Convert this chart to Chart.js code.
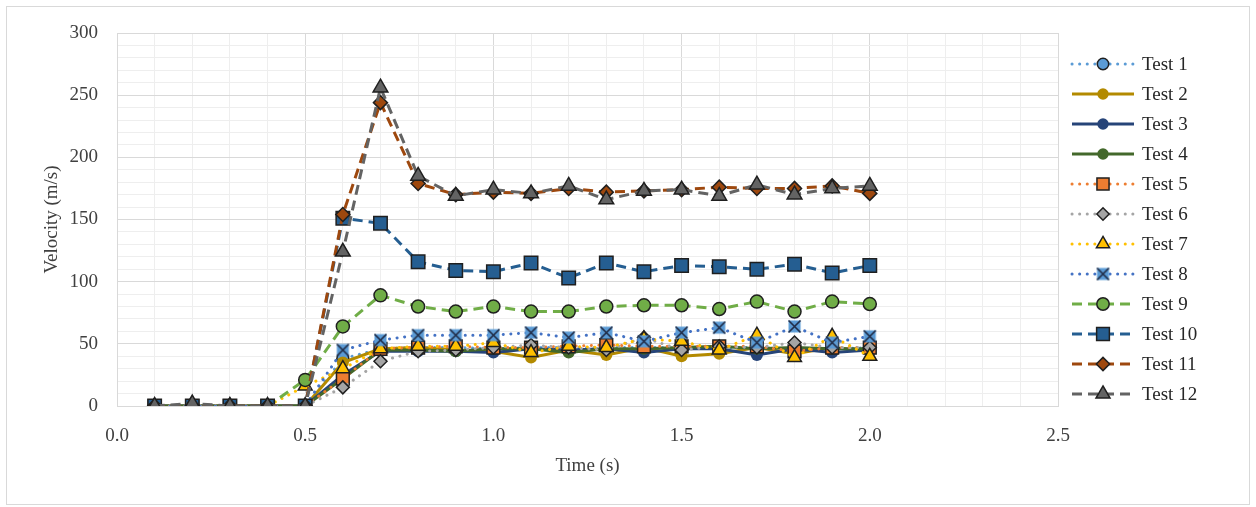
<!DOCTYPE html>
<html>
<head>
<meta charset="utf-8">
<script src="https://cdn.jsdelivr.net/npm/chart.js@4.4.1/dist/chart.umd.min.js"></script>
<style>
  html,body{margin:0;padding:0;background:#fff;}
  #box{position:absolute;left:6px;top:6px;width:1242px;height:497px;border:1px solid #d9d9d9;background:#fff;}
  canvas{display:block;}
</style>
</head>
<body>
<div id="box"><canvas id="c" width="1242" height="497"></canvas></div>
<script>
// Time points (s) and velocity (m/s) per test
const TIMES = [0.1,0.2,0.3,0.4,0.5,0.6,0.7,0.8,0.9,1.0,1.1,1.2,1.3,1.4,1.5,1.6,1.7,1.8,1.9,2.0];
const TEST1  = [0,0,0,0,0, 38, 46, 47, 47, 46, 47, 47, 47, 47, 47, 47, 47, 46, 46, 47];
const TEST2  = [0,0,0,0,0, 35, 46, 47, 45, 44, 39, 45, 41, 47, 40, 42, 47, 42, 47, 44];
const TEST3  = [0,0,0,0,0, 25, 44, 44, 44, 43, 46, 45, 46, 43, 46, 46, 41, 46, 43, 45];
const TEST4  = [0,0,0,0,0, 22, 45, 45, 44, 46, 46, 43, 46, 46, 47, 48, 46, 47, 46, 46];
const TEST5  = [0,0,0,0,0, 22, 46, 47, 48, 47, 47, 48, 49, 48, 48, 48, 48, 44, 47, 47];
const TEST6  = [0,0,0,0,0, 15, 36, 44, 45, 47, 49, 47, 45, 55, 45, 48, 47, 51, 47, 47];
const TEST7  = [0,0,0,0,16, 30, 46, 48, 48, 51, 43, 48, 47, 54, 52, 45, 57, 39, 56, 40];
const TEST8  = [0,0,0,0,0, 45, 53, 57, 57, 57, 59, 55, 59, 52, 59, 63, 51, 64, 51, 56];
const TEST9  = [0,0,0,0,21, 64, 89, 80, 76, 80, 76, 76, 80, 81, 81, 78, 84, 76, 84, 82];
const TEST10 = [0,0,0,0,0, 151,147,116,109,108,115,103,115,108,113,112,110,114,107,113];
const TEST11 = [0,0,0,0,0, 154,244,179,170,172,171,175,172,173,174,176,175,175,177,171];
const TEST12 = [0,2,0,0,0, 124,256,185,169,174,171,177,166,173,174,169,178,170,175,177];
const LABELS = ["Test 1","Test 2","Test 3","Test 4","Test 5","Test 6","Test 7","Test 8","Test 9","Test 10","Test 11","Test 12"];
const VALUES = [TEST1,TEST2,TEST3,TEST4,TEST5,TEST6,TEST7,TEST8,TEST9,TEST10,TEST11,TEST12];

const DOT=[0.1,7.5], DASH=[10,6], SOLID=[];
const EDGE="#1f1f1f";

// X marker with a light fill behind it, like the spreadsheet one
function xMark(){const s=15,cv=document.createElement("canvas");cv.width=s;cv.height=s;const g=cv.getContext("2d");
  g.fillStyle="#5b9bd5";g.fillRect(1.5,1.5,s-3,s-3);g.strokeStyle="#1f2a44";g.lineWidth=1.6;
  g.beginPath();g.moveTo(1.5,1.5);g.lineTo(s-1.5,s-1.5);g.moveTo(s-1.5,1.5);g.lineTo(1.5,s-1.5);g.stroke();return cv;}

const STYLE=[
  {c:"#5b9bd5",dash:DOT,  p:"circle",  r:6,  bw:1.5,bc:EDGE},
  {c:"#b38a00",dash:SOLID,p:"circle",  r:6,  bw:0,  bc:"#b38a00"},
  {c:"#264478",dash:SOLID,p:"circle",  r:6,  bw:0,  bc:"#264478"},
  {c:"#43682b",dash:SOLID,p:"circle",  r:6,  bw:0,  bc:"#43682b"},
  {c:"#ed7d31",dash:DOT,  p:"rect",    r:9,  bw:1.5,bc:EDGE},
  {c:"#a5a5a5",dash:DOT,  p:"rectRot", r:6.5,bw:1.5,bc:EDGE},
  {c:"#ffc000",dash:DOT,  p:"triangle",r:8,  bw:1.5,bc:EDGE},
  {c:"#4472c4",dash:DOT,  p:xMark(),   r:7,  bw:0,  bc:EDGE},
  {c:"#70ad47",dash:DASH, p:"circle",  r:6.5,bw:1.5,bc:EDGE},
  {c:"#255e91",dash:DASH, p:"rect",    r:9.5,bw:1.5,bc:EDGE},
  {c:"#9e480e",dash:DASH, p:"rectRot", r:7,  bw:1.5,bc:EDGE},
  {c:"#636363",dash:DASH, p:"triangle",r:8.5,bw:1.5,bc:EDGE},
];

const datasets=LABELS.map((lab,i)=>{const s=STYLE[i];return{
  label:lab,data:TIMES.map((t,k)=>({x:t,y:VALUES[i][k]})),
  borderColor:s.c,backgroundColor:s.c,borderWidth:3,borderDash:s.dash,borderCapStyle:s.dash===DOT?"round":"butt",
  pointStyle:s.p,pointRadius:s.r,pointHoverRadius:s.r,pointBackgroundColor:s.c,pointBorderColor:s.bc,pointBorderWidth:s.bw,
  tension:0,order:12-i}});

const FONT="'Liberation Serif', 'DejaVu Serif', serif";
// legend on the right: line sample + marker + label, one row every 30px
const legendRight={id:"legendRight",afterDraw(chart){const ctx=chart.ctx;ctx.save();
  LABELS.forEach((lab,i)=>{const s=STYLE[i],y=57+30*i;
    ctx.strokeStyle=s.c;ctx.lineWidth=3;ctx.setLineDash(s.dash);ctx.lineCap=s.dash===DOT?"round":"butt";
    ctx.beginPath();ctx.moveTo(1065,y);ctx.lineTo(1127,y);ctx.stroke();ctx.setLineDash([]);
    ctx.fillStyle=s.c;ctx.strokeStyle=s.bc;ctx.lineWidth=s.bw;
    Chart.helpers.drawPoint(ctx,{pointStyle:s.p,radius:s.r*0.95,borderWidth:s.bw,rotation:0},1096,y);
    ctx.fillStyle="#262626";ctx.font="19px "+FONT;ctx.textBaseline="middle";ctx.textAlign="left";ctx.fillText(lab,1135,y+1);});
  ctx.restore();}};

const major="#d9d9d9",minor="#eeeeee";
new Chart(document.getElementById("c"),{
  type:"line",
  data:{datasets},
  options:{responsive:false,animation:false,
    layout:{padding:{left:0,right:191,top:26,bottom:23}},
    plugins:{legend:{display:false},tooltip:{enabled:false}},
    scales:{
      x:{type:"linear",min:0,max:2.5,
        afterFit:(s)=>{s.height=75;s.paddingLeft=0;s.paddingRight=0;},
        ticks:{stepSize:0.1,autoSkip:false,maxRotation:0,padding:19,color:"#404040",font:{family:FONT,size:19},
          callback:(v)=>Math.abs(v*2-Math.round(v*2))<1e-6?v.toFixed(1):""},
        grid:{drawTicks:false,color:(c)=>Math.round(c.tick.value*10)%5===0?major:minor,lineWidth:1},
        border:{display:true,color:major},
        title:{display:true,text:"Time (s)",color:"#404040",font:{family:FONT,size:19},padding:{top:4,bottom:4}}},
      y:{min:0,max:300,
        afterFit:(s)=>{s.width=110;s.paddingTop=0;s.paddingBottom=0;},
        ticks:{stepSize:10,autoSkip:false,padding:19,color:"#404040",font:{family:FONT,size:19},
          callback:(v)=>v%50===0?String(v):""},
        grid:{drawTicks:false,color:(c)=>c.tick.value%50===0?major:minor,lineWidth:1},
        border:{display:true,color:major},
        title:{display:true,text:"Velocity (m/s)",color:"#404040",font:{family:FONT,size:19},padding:{top:34,bottom:0}}}
    }},
  plugins:[legendRight]});
</script>
</body>
</html>
